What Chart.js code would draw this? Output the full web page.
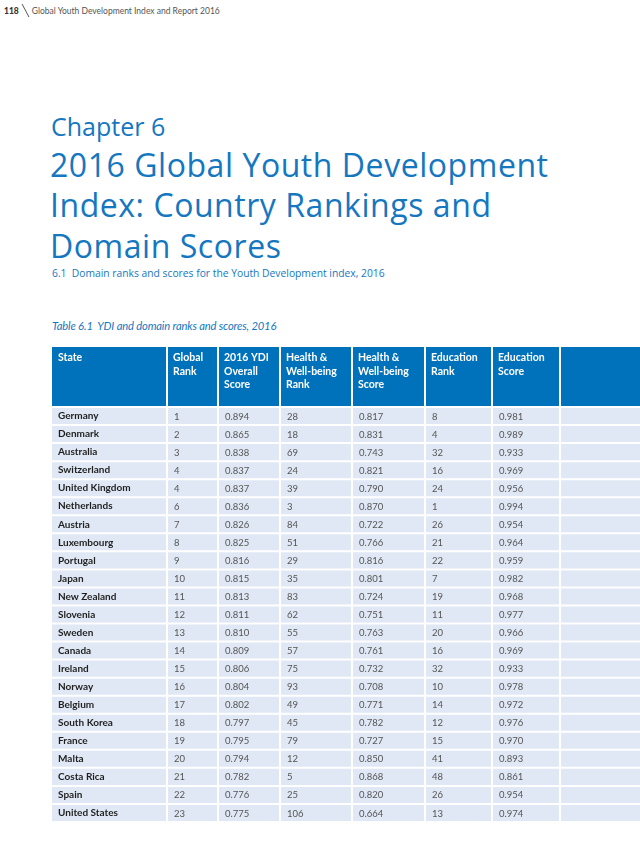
<!DOCTYPE html>
<html>
<head>
<meta charset="utf-8">
<script src="https://cdn.jsdelivr.net/npm/chart.js@4"></script>
<style>
  html, body { margin:0; padding:0; background:#fff; }
  body { width:640px; height:841px; position:relative; overflow:hidden; font-family:"Open Sans", sans-serif; }
  .abs { position:absolute; white-space:nowrap; }
  #pg { left:4px; top:4px; font-family:Lato, sans-serif; font-size:8.5px; line-height:14px; color:#555; }
  #pg b { color:#333; font-weight:900; margin-right:3px; }
  #pg .sl { display:inline-block; width:1px; height:13px; background:#555; transform:skewX(28deg); vertical-align:-3px; margin:0 6px 0 3px; }
  #chap { left:51px; top:115px; font-size:25px; line-height:22px; color:#1577c0; }
  #title { left:50px; top:144.5px; font-size:32px; line-height:40.5px; color:#1577c0; letter-spacing:0.55px; }
  #sub { left:52px; top:267px; font-size:10.3px; font-weight:500; line-height:12px; color:#1577c0; }
  #cap { left:52px; top:320px; font-family:Lato, sans-serif; font-style:italic; font-size:11.2px; line-height:12px; color:#1577c0; letter-spacing:-0.15px; }
  #wrap { position:absolute; left:52px; top:347px; width:588px; height:475px; }
</style>
</head>
<body>
<div id="pg" class="abs"><b>118</b><span class="sl"></span>Global Youth Development Index and Report 2016</div>
<div id="chap" class="abs">Chapter 6</div>
<div id="title" class="abs">2016 Global Youth Development<br>Index: Country Rankings and<br>Domain Scores</div>
<div id="sub" class="abs">6.1&nbsp; Domain ranks and scores for the Youth Development index, 2016</div>
<div id="cap" class="abs">Table 6.1&nbsp; YDI and domain ranks and scores, 2016</div>
<div id="wrap"><canvas id="c"></canvas></div>
<script>
// ---- data ----
const states = ["Germany","Denmark","Australia","Switzerland","United Kingdom","Netherlands","Austria","Luxembourg","Portugal","Japan","New Zealand","Slovenia","Sweden","Canada","Ireland","Norway","Belgium","South Korea","France","Malta","Costa Rica","Spain","United States"];
const globalRank = [1,2,3,4,4,6,7,8,9,10,11,12,13,14,15,16,17,18,19,20,21,22,23];
const ydiScore = [0.894,0.865,0.838,0.837,0.837,0.836,0.826,0.825,0.816,0.815,0.813,0.811,0.810,0.809,0.806,0.804,0.802,0.797,0.795,0.794,0.782,0.776,0.775];
const hwRank = [28,18,69,24,39,3,84,51,29,35,83,62,55,57,75,93,49,45,79,12,5,25,106];
const hwScore = [0.817,0.831,0.743,0.821,0.790,0.870,0.722,0.766,0.816,0.801,0.724,0.751,0.763,0.761,0.732,0.708,0.771,0.782,0.727,0.850,0.868,0.820,0.664];
const eduRank = [8,4,32,16,24,1,26,21,22,7,19,11,20,16,32,10,14,12,15,41,48,26,13];
const eduScore = [0.981,0.989,0.933,0.969,0.956,0.994,0.954,0.964,0.959,0.982,0.968,0.977,0.966,0.969,0.933,0.978,0.972,0.976,0.970,0.893,0.861,0.954,0.974];
const headerLabels = [["State"],["Global","Rank"],["2016 YDI","Overall","Score"],["Health &","Well-being","Rank"],["Health &","Well-being","Score"],["Education","Rank"],["Education","Score"],[]];

// ---- layout (column edges in table units) ----
const colEdges = [0,115,166,228,300,373,440,508,588];
const columns = [null, globalRank, ydiScore, hwRank, hwScore, eduRank, eduScore, null];
const isScore = [false,false,true,false,true,false,true,false];

const HEAD_H = 60;
const cellColor = '#dfe8f4';
const headColor = '#0071bb';
const lastCol = colEdges.length-2;

const datasets = colEdges.slice(0,-1).map((e,i)=>({
  label: 'col'+i,
  data: states.map(()=>[e + (i?1:0), colEdges[i+1]-(i===lastCol?0:1)]),
  backgroundColor: cellColor,
  borderWidth: 0,
  borderSkipped: false,
  barPercentage: 1,
  categoryPercentage: 16/18,
  grouped: false
}));

const tablePlugin = {
  id: 'tablePlugin',
  beforeDatasetsDraw(chart){
    const {ctx, chartArea, scales:{x}} = chart;
    const top = chartArea.top - HEAD_H;
    ctx.save();
    for (let i=0;i<colEdges.length-1;i++){
      const x0 = x.getPixelForValue(colEdges[i] + (i?1:0));
      const x1 = x.getPixelForValue(colEdges[i+1] - (i===lastCol?0:1));
      ctx.fillStyle = headColor;
      ctx.fillRect(x0, top, x1-x0, HEAD_H-1);
      ctx.fillStyle = '#ffffff';
      ctx.font = 'bold 10.5px Lato, sans-serif';
      ctx.textBaseline = 'alphabetic';
      ctx.textAlign = 'left';
      headerLabels[i].forEach((t,k)=>{
        ctx.fillText(t, x.getPixelForValue(colEdges[i]+6), top + 14 + k*13.5);
      });
    }
    ctx.restore();
  },
  afterDatasetsDraw(chart){
    const {ctx, scales:{x,y}} = chart;
    ctx.save();
    ctx.fillStyle = '#555555';
    ctx.font = '9.5px Lato, sans-serif';
    ctx.textBaseline = 'middle';
    ctx.textAlign = 'left';
    columns.forEach((vals,c)=>{
      if(!vals) return;
      vals.forEach((v,i)=>{
        const t = isScore[c] ? v.toFixed(3) : String(v);
        ctx.fillText(t, x.getPixelForValue(colEdges[c]+7), y.getPixelForValue(i)+0.5);
      });
    });
    ctx.restore();
  }
};

new Chart(document.getElementById('c'), {
  type: 'bar',
  data: { labels: states, datasets },
  options: {
    indexAxis: 'y',
    responsive: true,
    maintainAspectRatio: false,
    animation: false,
    events: [],
    layout: { padding: { top: HEAD_H, bottom: 0, left: 0, right: 0 } },
    plugins: { legend: { display:false }, tooltip: { enabled:false }, title: { display:false } },
    scales: {
      x: { type:'linear', min:0, max:588, display:false },
      y: {
        type:'category',
        position:'left',
        grid: { display:false, drawTicks:false },
        border: { display:false },
        afterFit(scale){ scale.width = 0; scale.paddingTop = 0; scale.paddingBottom = 0; scale.paddingLeft = 0; scale.paddingRight = 0; },
        ticks: { mirror:true, padding:6, z:1, color:'#1f1f1f', font:{ family:'Lato, sans-serif', size:10, weight:'bold' }, autoSkip:false }
      }
    }
  },
  plugins: [tablePlugin]
});
</script>
</body>
</html>
